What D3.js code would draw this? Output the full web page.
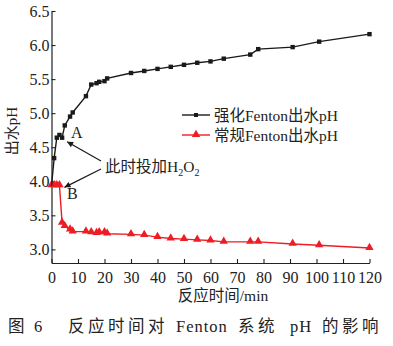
<!DOCTYPE html>
<html>
<head>
<meta charset="utf-8">
<script src="https://cdn.jsdelivr.net/npm/d3@7"></script>
<style>
  html, body { margin: 0; padding: 0; background: #fff; }
  svg { display: block; }
  text { font-family: "Liberation Serif", "Noto Sans CJK SC", serif; fill: #222; }
</style>
</head>
<body>
<svg id="chart" width="393" height="346"></svg>
<script>
// Reaction time (min) and effluent pH for the two Fenton processes
const timeStrong = [0, 1, 2, 3, 4, 5, 7, 8, 13, 15, 17, 18, 20, 21, 30, 35, 40, 45, 50, 55, 60, 65, 75, 78, 91, 101, 120];
const phStrong   = [3.93, 4.34, 4.64, 4.68, 4.64, 4.82, 4.95, 5.01, 5.25, 5.42, 5.44, 5.46, 5.47, 5.51, 5.59, 5.62, 5.65, 5.68, 5.71, 5.74, 5.76, 5.80, 5.86, 5.94, 5.97, 6.05, 6.16];
const timeConv   = [0, 1, 2, 3, 4, 5, 7, 8, 13, 15, 17, 18, 20, 21, 30, 35, 40, 45, 50, 55, 60, 65, 75, 78, 91, 101, 120];
const phConv     = [3.94, 3.94, 3.94, 3.94, 3.39, 3.34, 3.29, 3.26, 3.26, 3.25, 3.24, 3.25, 3.25, 3.23, 3.22, 3.21, 3.18, 3.16, 3.15, 3.14, 3.13, 3.11, 3.11, 3.11, 3.08, 3.06, 3.02];
const xTicks = [0, 10, 20, 30, 40, 50, 60, 70, 80, 90, 100, 110, 120];
const yTicks = [3.0, 3.5, 4.0, 4.5, 5.0, 5.5, 6.0, 6.5];
const seriesNames = ["强化Fenton出水pH", "常规Fenton出水pH"];
const xTitle = "反应时间/min";
const yTitle = "出水pH";
const captionParts = ["图", "6", "反应时间对", "Fenton", "系统", "pH", "的影响"];

const svg = d3.select("#chart");
const x = d3.scaleLinear().domain([0, 120]).range([51.5, 369.5]);
const y = d3.scaleLinear().domain([2.8, 6.5]).range([263, 11]);

const RED = "#ee1c25";
const BLACK = "#1a1a1a";

// Axes with inward ticks
const xAxis = svg.append("g").attr("transform", `translate(0,${y.range()[0]})`)
  .call(d3.axisBottom(x).tickValues(xTicks).tickSizeInner(-4).tickSizeOuter(0).tickPadding(9).tickFormat(d3.format("d")));
const yAxis = svg.append("g").attr("transform", `translate(${x.range()[0]},0)`)
  .call(d3.axisLeft(y).tickValues(yTicks).tickSizeInner(-4).tickSizeOuter(0).tickPadding(2).tickFormat(d3.format(".1f")));
[xAxis, yAxis].forEach(g => {
  g.select(".domain").attr("stroke", "#222").attr("stroke-width", 1.2);
  g.selectAll(".tick line").attr("stroke", "#222").attr("stroke-width", 1.1);
  g.selectAll(".tick text").attr("font-family", "Liberation Serif").attr("font-size", 16).attr("fill", "#222");
});

// Axis titles
svg.append("text").attr("x", 223).attr("y", 301).attr("text-anchor", "middle")
  .attr("font-size", 15.5).text(xTitle);
svg.append("text").attr("transform", "translate(17,131) rotate(-90)").attr("text-anchor", "middle")
  .attr("font-size", 15).text(yTitle);

// Series
const strong = timeStrong.map((t, i) => [t, phStrong[i]]);
const conv = timeConv.map((t, i) => [t, phConv[i]]);
const line = d3.line().x(d => x(d[0])).y(d => y(d[1]));
const tri = d3.symbol().type(d3.symbolTriangle).size(30);

svg.append("path").datum(conv).attr("d", line).attr("fill", "none").attr("stroke", RED).attr("stroke-width", 1.4);
svg.append("g").selectAll("path").data(conv).join("path")
  .attr("d", tri).attr("transform", d => `translate(${x(d[0])},${y(d[1]) - 0.5})`).attr("fill", RED);

svg.append("path").datum(strong).attr("d", line).attr("fill", "none").attr("stroke", BLACK).attr("stroke-width", 1.4);
svg.append("g").selectAll("rect").data(strong.slice(1)).join("rect")
  .attr("x", d => x(d[0]) - 2.2).attr("y", d => y(d[1]) - 2.2).attr("width", 4.4).attr("height", 4.4).attr("fill", BLACK);

// Legend
const legend = svg.append("g");
[[BLACK, 115], [RED, 135]].forEach(([c, ly], i) => {
  legend.append("line").attr("x1", 182).attr("x2", 210).attr("y1", ly).attr("y2", ly).attr("stroke", c).attr("stroke-width", 1.4);
  if (i === 0) {
    legend.append("rect").attr("x", 194).attr("y", ly - 2).attr("width", 4).attr("height", 4).attr("fill", c);
  } else {
    legend.append("path").attr("d", tri).attr("transform", `translate(196,${ly - 0.5})`).attr("fill", c);
  }
  legend.append("text").attr("x", 214).attr("y", ly + 5.5).attr("font-size", 15.5).text(seriesNames[i]);
});

// Annotations: dosing points A and B
svg.append("defs").append("marker").attr("id", "arrow").attr("viewBox", "0 0 10 10")
  .attr("refX", 10).attr("refY", 5).attr("markerWidth", 9).attr("markerHeight", 6)
  .attr("markerUnits", "userSpaceOnUse").attr("orient", "auto")
  .append("path").attr("d", "M0,0 L10,5 L0,10 Z").attr("fill", BLACK);

const tipA = [x(4) + 5, y(4.64) + 4];
const tipB = [x(3) + 5, y(3.94) + 2];
svg.append("line").attr("x1", 101).attr("y1", 161).attr("x2", tipA[0]).attr("y2", tipA[1])
  .attr("stroke", BLACK).attr("stroke-width", 1.2).attr("marker-end", "url(#arrow)");
svg.append("line").attr("x1", 101).attr("y1", 169).attr("x2", tipB[0]).attr("y2", tipB[1])
  .attr("stroke", BLACK).attr("stroke-width", 1.2).attr("marker-end", "url(#arrow)");

svg.append("text").attr("x", 71).attr("y", 138).attr("font-size", 16).text("A");
svg.append("text").attr("x", 67).attr("y", 199).attr("font-size", 16).text("B");

const note = svg.append("text").attr("x", 105).attr("y", 172).attr("font-size", 15.5);
note.append("tspan").text("此时投加H");
note.append("tspan").attr("font-size", 10).attr("dy", 4).text("2");
note.append("tspan").attr("dy", -4).text("O");
note.append("tspan").attr("font-size", 10).attr("dy", 4).text("2");

// Figure caption, each word group placed in its column
const capX = [8, 34, 68, 176, 238, 290, 322];
const capSpacing = [3.5, 1, 3.5, 1, 3.5, 1, 3.5];
const cap = svg.append("text").attr("y", 332).attr("font-size", 16.5);
captionParts.forEach((s, i) => cap.append("tspan").attr("x", capX[i]).attr("letter-spacing", capSpacing[i]).text(s));
</script>
</body>
</html>
